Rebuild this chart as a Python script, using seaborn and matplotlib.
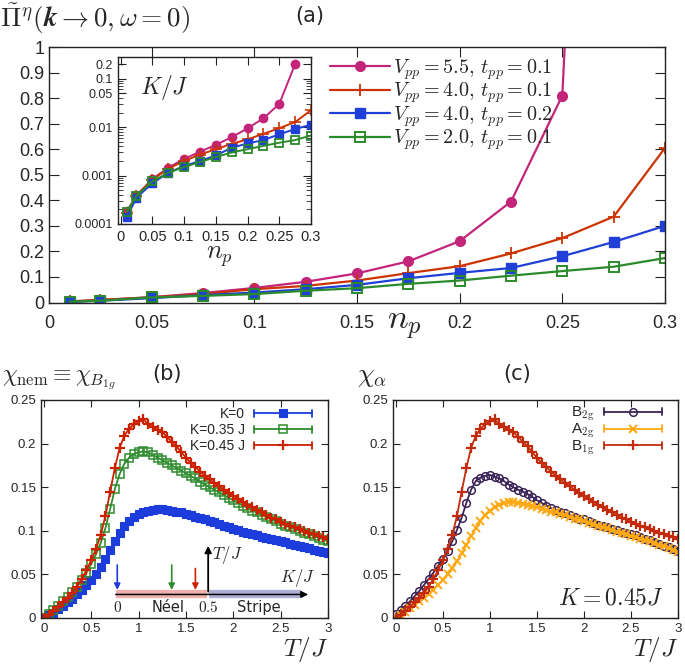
import numpy as np
import pandas as pd
import matplotlib
matplotlib.use("Agg")
import matplotlib.pyplot as plt
import seaborn as sns
from matplotlib.lines import Line2D
from matplotlib.legend_handler import HandlerBase
from matplotlib.ticker import FixedLocator, NullFormatter, LogLocator

# ---------------- data: panel (a) ----------------
n_p = [0.01, 0.025, 0.05, 0.075, 0.1, 0.125, 0.15, 0.175, 0.2, 0.225, 0.25, 0.275, 0.3]
pi_v55_t01 = [0.004, 0.010, 0.021, 0.037, 0.057, 0.081, 0.114, 0.161, 0.240, 0.395, 0.81, 5.0, np.nan]
pi_v40_t01 = [0.004, 0.010, 0.020, 0.033, 0.052, 0.065, 0.086, 0.115, 0.142, 0.192, 0.252, 0.336, 0.605]
pi_v40_t02 = [0.002, 0.007, 0.017, 0.029, 0.039, 0.052, 0.069, 0.095, 0.116, 0.135, 0.181, 0.237, 0.300]
pi_v20_t01 = [0.003, 0.007, 0.020, 0.026, 0.033, 0.046, 0.056, 0.073, 0.086, 0.105, 0.123, 0.140, 0.174]

kj_v55_t01 = [1.85e-4, 3.9e-4, 8.5e-4, 1.45e-3, 2.2e-3, 3.1e-3, 4.3e-3, 6.2e-3, 9.4e-3, 0.0152, 0.030, 0.20, np.nan]
kj_v40_t01 = [1.7e-4, 3.8e-4, 8.2e-4, 1.38e-3, 2.0e-3, 2.7e-3, 3.5e-3, 4.5e-3, 5.6e-3, 7.25e-3, 9.5e-3, 0.0127, 0.0223]
kj_v40_t02 = [1.37e-4, 3.5e-4, 6.9e-4, 1.14e-3, 1.57e-3, 2.0e-3, 2.6e-3, 3.74e-3, 4.6e-3, 5.4e-3, 7.1e-3, 9.1e-3, 0.0112]
kj_v20_t01 = [1.8e-4, 3.8e-4, 7.6e-4, 1.14e-3, 1.5e-3, 1.9e-3, 2.4e-3, 3.0e-3, 3.5e-3, 4.1e-3, 4.76e-3, 5.4e-3, 6.7e-3]

labels_a = [r"$V_{pp}=5.5,\,t_{pp}=0.1$", r"$V_{pp}=4.0,\,t_{pp}=0.1$",
            r"$V_{pp}=4.0,\,t_{pp}=0.2$", r"$V_{pp}=2.0,\,t_{pp}=0.1$"]

# ---------------- data: panels (b), (c) ----------------
T = [round(0.05 * i, 2) for i in range(61)]
chi_K0 = [0.000, 0.003, 0.006, 0.010, 0.014, 0.018, 0.022, 0.027, 0.032, 0.038,
          0.044, 0.050, 0.058, 0.068, 0.078, 0.088, 0.097, 0.105, 0.111, 0.116,
          0.119, 0.121, 0.123, 0.124, 0.125, 0.125, 0.124, 0.123, 0.122, 0.121,
          0.119, 0.118, 0.116, 0.115, 0.113, 0.111, 0.110, 0.108, 0.106, 0.104,
          0.102, 0.101, 0.099, 0.098, 0.096, 0.095, 0.093, 0.092, 0.091, 0.089,
          0.088, 0.087, 0.085, 0.084, 0.083, 0.081, 0.080, 0.078, 0.077, 0.076, 0.075]
chi_K035 = [0.000, 0.005, 0.009, 0.014, 0.019, 0.024, 0.030, 0.036, 0.044, 0.052,
            0.062, 0.073, 0.086, 0.103, 0.125, 0.148, 0.165, 0.177, 0.184, 0.188,
            0.190, 0.191, 0.190, 0.187, 0.184, 0.181, 0.178, 0.175, 0.172, 0.169,
            0.166, 0.163, 0.160, 0.156, 0.153, 0.150, 0.147, 0.144, 0.141, 0.138,
            0.135, 0.132, 0.129, 0.126, 0.123, 0.121, 0.118, 0.116, 0.113, 0.111,
            0.108, 0.106, 0.104, 0.102, 0.100, 0.098, 0.096, 0.094, 0.092, 0.090, 0.088]
chi_K045 = [0.000, 0.004, 0.008, 0.013, 0.018, 0.023, 0.029, 0.036, 0.045, 0.055,
            0.066, 0.079, 0.095, 0.117, 0.145, 0.172, 0.195, 0.209, 0.217, 0.222,
            0.226, 0.228, 0.222, 0.219, 0.216, 0.213, 0.208, 0.202, 0.197, 0.190,
            0.184, 0.178, 0.173, 0.168, 0.163, 0.159, 0.155, 0.151, 0.147, 0.143,
            0.140, 0.137, 0.133, 0.130, 0.127, 0.124, 0.121, 0.118, 0.115, 0.113,
            0.110, 0.108, 0.106, 0.104, 0.102, 0.100, 0.098, 0.096, 0.094, 0.093, 0.091]
chi_B2g = [0.005, 0.009, 0.014, 0.019, 0.025, 0.031, 0.038, 0.045, 0.052, 0.060,
           0.068, 0.077, 0.088, 0.101, 0.115, 0.132, 0.147, 0.157, 0.161, 0.163,
           0.164, 0.162, 0.160, 0.157, 0.153, 0.150, 0.147, 0.145, 0.142, 0.139,
           0.135, 0.132, 0.129, 0.126, 0.124, 0.122, 0.120, 0.118, 0.116, 0.114,
           0.113, 0.111, 0.109, 0.107, 0.106, 0.104, 0.102, 0.101, 0.099, 0.098,
           0.096, 0.095, 0.093, 0.091, 0.089, 0.087, 0.085, 0.083, 0.081, 0.079, 0.077]
chi_A2g = [0.000, 0.003, 0.007, 0.011, 0.015, 0.019, 0.023, 0.027, 0.032, 0.038,
           0.044, 0.050, 0.057, 0.065, 0.074, 0.084, 0.094, 0.103, 0.111, 0.118,
           0.123, 0.127, 0.130, 0.132, 0.133, 0.133, 0.132, 0.131, 0.130, 0.128,
           0.127, 0.125, 0.124, 0.122, 0.121, 0.119, 0.118, 0.116, 0.114, 0.113,
           0.111, 0.109, 0.108, 0.106, 0.104, 0.103, 0.101, 0.099, 0.098, 0.096,
           0.094, 0.093, 0.091, 0.089, 0.088, 0.086, 0.084, 0.082, 0.080, 0.078, 0.076]
chi_B1g = chi_K045

labels_b = ["K=0", "K=0.35 J", "K=0.45 J"]
labels_c = [r"B$_{\rm 2g}$", r"A$_{\rm 2g}$", r"B$_{\rm 1g}$"]

# ---------------- style ----------------
sns.set_style("ticks")
plt.rcParams["font.family"] = ["Liberation Sans", "DejaVu Sans"]
plt.rcParams["mathtext.fontset"] = "cm"
plt.rcParams["axes.linewidth"] = 1.0
plt.rcParams["axes.edgecolor"] = "#222222"

W, H = 685, 665
fig = plt.figure(figsize=(W / 100, H / 100), dpi=100)


def box(l, t, r, b):
    return [l / W, 1 - b / H, (r - l) / W, (b - t) / H]


def ticks_in(ax, size=5, labelsize=9):
    ax.tick_params(which="both", direction="in", top=True, right=True,
                   labelsize=labelsize, color="#222222")
    ax.tick_params(which="major", length=size)
    ax.tick_params(which="minor", length=size * 0.55)


class ErrHandler(HandlerBase):
    def create_artists(self, legend, orig, xd, yd, width, height, fontsize, trans):
        y = height / 2 - yd
        c = orig.get_color()
        lw = 1.3
        x0, x1 = -xd, width - xd
        h = height * 0.35
        arts = [Line2D([x0, x1], [y, y], color=c, lw=lw),
                Line2D([x0, x0], [y - h, y + h], color=c, lw=lw),
                Line2D([x1, x1], [y - h, y + h], color=c, lw=lw),
                Line2D([(x0 + x1) / 2], [y], marker=orig.get_marker(), color=c,
                       mfc=orig.get_markerfacecolor(), mec=c, ms=orig.get_markersize(),
                       mew=orig.get_markeredgewidth(), lw=0)]
        for a in arts:
            a.set_transform(trans)
        return arts


# ---------------- panel (a) ----------------
axa = fig.add_axes(box(49, 47, 665, 302.5))
cols_a = ["#c2257a", "#cc3300", "#1f3fd6", "#2b8a2b"]
marks_a = [dict(marker="o", ms=7, mfc=cols_a[0], mew=1),
           dict(marker="+", ms=9, mfc=cols_a[1], mew=1.3),
           dict(marker="s", ms=7, mfc=cols_a[2], mew=1),
           dict(marker="s", ms=7, mfc="none", mew=1.4)]
series_a = [pi_v55_t01, pi_v40_t01, pi_v40_t02, pi_v20_t01]
for vals, c, m, lab in zip(series_a, cols_a, marks_a, labels_a):
    df = pd.DataFrame({"n_p": n_p, "v": vals})
    sns.lineplot(data=df, x="n_p", y="v", ax=axa, color=c, lw=1.6, mec=c,
                 label=lab, clip_on=True, **m)
axa.set_xlim(0, 0.3)
axa.set_ylim(0, 1)
axa.set_xticks([0, 0.05, 0.1, 0.15, 0.2, 0.25, 0.3])
axa.set_xticklabels(["0", "0.05", "0.1", "0.15", "0.2", "0.25", "0.3"])
axa.set_yticks(np.round(np.arange(0, 1.01, 0.1), 1))
axa.set_yticklabels(["0", "0.1", "0.2", "0.3", "0.4", "0.5", "0.6", "0.7", "0.8", "0.9", "1"])
ticks_in(axa, size=7, labelsize=13)
axa.tick_params(axis="x", pad=9)
axa.set_xlabel("")
axa.set_ylabel("")
leg = axa.legend(loc="upper left", bbox_to_anchor=(330 / W, 1 - 57 / H),
                 bbox_transform=fig.transFigure, frameon=False, fontsize=14.5,
                 handlelength=3.0, handletextpad=0.15, labelspacing=-0.05,
                 borderaxespad=0, borderpad=0)

# inset
axi = fig.add_axes(box(118, 57, 311, 224))
series_i = [kj_v55_t01, kj_v40_t01, kj_v40_t02, kj_v20_t01]
marks_i = [dict(marker="o", ms=6, mfc=cols_a[0], mew=1),
           dict(marker="+", ms=8, mfc=cols_a[1], mew=1.2),
           dict(marker="s", ms=6, mfc=cols_a[2], mew=1),
           dict(marker="s", ms=6, mfc="none", mew=1.3)]
for vals, c, m in zip(series_i, cols_a, marks_i):
    df = pd.DataFrame({"n_p": n_p, "v": vals})
    sns.lineplot(data=df, x="n_p", y="v", ax=axi, color=c, lw=1.4, mec=c,
                 legend=False, **m)
axi.set_yscale("log")
axi.set_xlim(-0.004, 0.3)
axi.set_ylim(1e-4, 0.28)
axi.set_xticks([0, 0.05, 0.1, 0.15, 0.2, 0.25, 0.3])
axi.set_xticklabels(["0", "0.05", "0.1", "0.15", "0.2", "0.25", "0.3"])
axi.yaxis.set_major_locator(FixedLocator([1e-4, 1e-3, 1e-2, 0.05, 0.1, 0.2]))
axi.set_yticklabels(["0.0001", "0.001", "0.01", "0.05", "0.1", "0.2"])
axi.yaxis.set_minor_locator(LogLocator(base=10, subs=np.arange(2, 10)))
axi.yaxis.set_minor_formatter(NullFormatter())
ticks_in(axi, size=6, labelsize=9)
axi.tick_params(axis="y", which="major", labelsize=9)
axi.tick_params(axis="x", pad=4, labelsize=10.5)
axi.set_xlabel("")
axi.set_ylabel("")
fig.text(164 / W, 1 - 87 / H, r"$K/J$", fontsize=17, ha="center", va="center")
fig.text(219 / W, 1 - 257 / H, r"$n_p$", fontsize=19, ha="center", va="center")
fig.text(404 / W, 1 - 326 / H, r"$n_p$", fontsize=25, ha="center", va="center")
fig.text(0 / W, 1 - 19 / H, r"$\tilde{\Pi}^{\eta}(\mathbfit{k}\rightarrow 0,\omega=0)$",
         fontsize=19.5, ha="left", va="center")
fig.text(310 / W, 1 - 16 / H, "(a)", fontsize=15, ha="center", va="center",
         family="DejaVu Sans")

# ---------------- panel (b) ----------------
axb = fig.add_axes(box(41, 400, 328, 618))
cols_b = ["#1c3cdc", "#2e8b2e", "#cc2200"]
marks_b = [dict(marker="s", ms=5.5, mfc=cols_b[0], mew=0.8),
           dict(marker="s", ms=5.5, mfc="none", mew=1.1),
           dict(marker="+", ms=7, mfc=cols_b[2], mew=1.6)]
series_b = [chi_K0, chi_K035, chi_K045]
handles_b = []
for vals, c, m, lab in zip(series_b, cols_b, marks_b, labels_b):
    df = pd.DataFrame({"T": T, "chi": vals})
    sns.lineplot(data=df, x="T", y="chi", ax=axb, color=c, lw=1.3, mec=c,
                 legend=False, **m)
    handles_b.append(Line2D([], [], color=c, mec=c, label=lab, **m))
axb.set_xlim(-0.03, 3)
axb.set_ylim(0, 0.25)
axb.set_xticks([0, 0.5, 1, 1.5, 2, 2.5, 3])
axb.set_xticklabels(["0", "0.5", "1", "1.5", "2", "2.5", "3"])
axb.set_yticks([0, 0.05, 0.1, 0.15, 0.2, 0.25])
axb.set_yticklabels(["0", "0.05", "0.1", "0.15", "0.2", "0.25"])
ticks_in(axb, size=5, labelsize=9.5)
axb.set_xlabel("")
axb.set_ylabel("")
axb.legend(handles=handles_b, handler_map={h: ErrHandler() for h in handles_b},
           loc="upper right", bbox_to_anchor=(312 / W, 1 - 407 / H),
           bbox_transform=fig.transFigure, frameon=False, fontsize=10,
           handlelength=4.2, handletextpad=0.6, labelspacing=0.15,
           markerfirst=False, borderaxespad=0, borderpad=0)

# phase-diagram sketch inside (b)
yb = 0.027
axb.plot([0.76, 1.725], [yb, yb], color="#e05050", alpha=0.45, lw=6, solid_capstyle="butt")
axb.plot([1.745, 2.72], [yb, yb], color="#5050a8", alpha=0.45, lw=6, solid_capstyle="butt")
axb.annotate("", xy=(2.82, yb), xytext=(0.73, yb),
             arrowprops=dict(arrowstyle="-|>", color="black", lw=1.1, mutation_scale=10))
axb.annotate("", xy=(1.735, 0.086), xytext=(1.735, yb),
             arrowprops=dict(arrowstyle="-|>", color="black", lw=1.3, mutation_scale=10))
for xa, ytop, c in [(0.775, 0.064, cols_b[0]), (1.35, 0.064, cols_b[1]), (1.6, 0.06, cols_b[2])]:
    axb.annotate("", xy=(xa, yb + 0.002), xytext=(xa, ytop),
                 arrowprops=dict(arrowstyle="-|>", color=c, lw=1.2, mutation_scale=9))
axb.text(1.78, 0.072, r"$T/J$", fontsize=12, ha="left", va="center")
axb.text(2.68, 0.046, r"$K/J$", fontsize=12, ha="center", va="center")
axb.text(0.775, 0.012, r"$0$", fontsize=11, ha="center", va="center")
axb.text(1.31, 0.012, "Néel", fontsize=10.5, ha="center", va="center", family="DejaVu Sans")
axb.text(1.74, 0.012, r"$0.5$", fontsize=11, ha="center", va="center")
axb.text(2.27, 0.012, "Stripe", fontsize=10.5, ha="center", va="center", family="DejaVu Sans")

fig.text(328 / W, 1 - 650 / H, r"$T/J$", fontsize=18, ha="right", va="center")
fig.text(2 / W, 1 - 380 / H, r"$\chi_{\rm nem}\equiv\chi_{B_{1g}}$", fontsize=17,
         ha="left", va="center")
fig.text(167 / W, 1 - 374 / H, "(b)", fontsize=15, ha="center", va="center",
         family="DejaVu Sans")

# ---------------- panel (c) ----------------
axc = fig.add_axes(box(393, 400, 678, 618))
cols_c = ["#3a2356", "#ffa811", "#c42b0c"]
marks_c = [dict(marker="o", ms=5.5, mfc="none", mew=1.1),
           dict(marker="x", ms=5.5, mfc=cols_c[1], mew=1.4),
           dict(marker="+", ms=7, mfc=cols_c[2], mew=1.6)]
series_c = [chi_B2g, chi_A2g, chi_B1g]
handles_c = []
for vals, c, m, lab in zip(series_c, cols_c, marks_c, labels_c):
    df = pd.DataFrame({"T": T, "chi": vals})
    sns.lineplot(data=df, x="T", y="chi", ax=axc, color=c, lw=1.3, mec=c,
                 legend=False, **m)
    handles_c.append(Line2D([], [], color=c, mec=c, label=lab, **m))
axc.set_xlim(-0.03, 3)
axc.set_ylim(0, 0.25)
axc.set_xticks([0, 0.5, 1, 1.5, 2, 2.5, 3])
axc.set_xticklabels(["0", "0.5", "1", "1.5", "2", "2.5", "3"])
axc.set_yticks([0, 0.05, 0.1, 0.15, 0.2, 0.25])
axc.set_yticklabels(["0", "0.05", "0.1", "0.15", "0.2", "0.25"])
ticks_in(axc, size=5, labelsize=9.5)
axc.set_xlabel("")
axc.set_ylabel("")
axc.legend(handles=handles_c, handler_map={h: ErrHandler() for h in handles_c},
           loc="upper right", bbox_to_anchor=(662 / W, 1 - 405 / H),
           bbox_transform=fig.transFigure, frameon=False, fontsize=11,
           handlelength=3.8, handletextpad=0.6, labelspacing=-0.1,
           markerfirst=False, borderaxespad=0, borderpad=0)
axc.text(0.95, 0.09, r"$K=0.45J$", transform=axc.transAxes, fontsize=17,
         ha="right", va="center")
fig.text(678 / W, 1 - 650 / H, r"$T/J$", fontsize=18, ha="right", va="center")
fig.text(357 / W, 1 - 377 / H, r"$\chi_{\alpha}$", fontsize=19, ha="left", va="center")
fig.text(517 / W, 1 - 374 / H, "(c)", fontsize=15, ha="center", va="center",
         family="DejaVu Sans")

fig.savefig("out.png", dpi=100)
